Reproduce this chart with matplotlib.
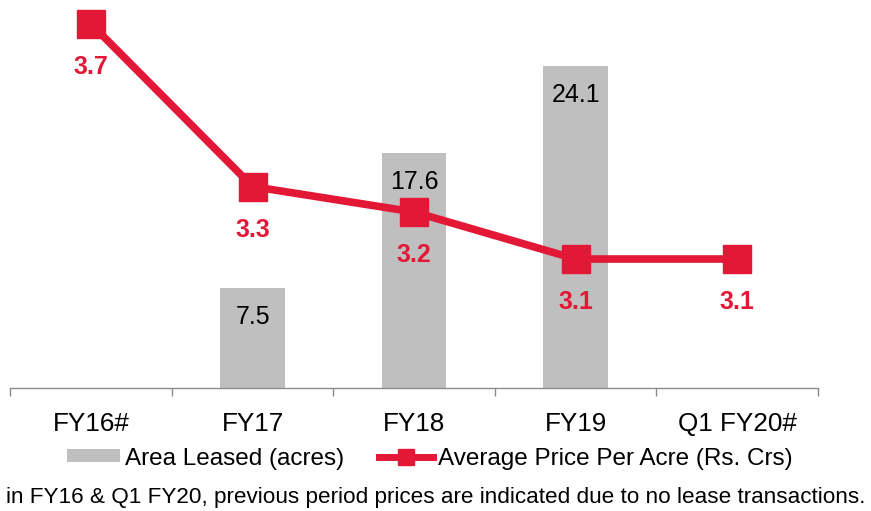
import matplotlib
matplotlib.use("Agg")
import matplotlib.pyplot as plt
from matplotlib.lines import Line2D
from matplotlib.patches import Patch

plt.rcParams['font.family'] = ['Liberation Sans', 'DejaVu Sans']

# data
periods = ["FY16#", "FY17", "FY18", "FY19", "Q1 FY20#"]
area_leased = [None, 7.5, 17.6, 24.1, None]          # acres
avg_price = [3.70, 3.285, 3.22, 3.10, 3.10]           # Rs. Crs per acre

GREY = "#BFBFBF"
RED = "#E31837"

fig = plt.figure(figsize=(8.71, 5.11), dpi=100)
ax = fig.add_axes([0.0118, 0.2407, 0.9274, 0.7397])
ax2 = ax.twinx()

x = list(range(len(periods)))

# bars (area leased)
for xi, v in zip(x, area_leased):
    if v is None:
        continue
    ax.bar(xi, v, width=0.40, color=GREY, zorder=1)
    ax.annotate(f"{v:.1f}", (xi, v), xytext=(0, -21), textcoords="offset points",
                ha="center", va="center", fontsize=18, color="black")

ax.set_xlim(-0.5, 4.5)
ax.set_ylim(0, 28.25)
ax.set_yticks([])
for s in ["top", "left", "right"]:
    ax.spines[s].set_visible(False)
ax.spines["bottom"].set_color("#8C8C8C")
ax.spines["bottom"].set_linewidth(1.0)

ax.set_xticks(x)
ax.set_xticklabels(periods, fontsize=18.8)
ax.tick_params(axis="x", which="major", length=0, pad=17.5)
ax.set_xticks([i - 0.5 for i in range(len(periods) + 1)], minor=True)
ax.tick_params(axis="x", which="minor", length=6, width=1.0, color="#8C8C8C")

# line (average price)
ax2.plot(x, avg_price, color=RED, lw=5.5, marker="s", markersize=20,
         clip_on=False, zorder=3)
for xi, v in zip(x, avg_price):
    ax2.annotate(f"{v:.1f}", (xi, v), xytext=(0, -31), textcoords="offset points",
                 ha="center", va="center", fontsize=18, fontweight="bold", color=RED)
ax2.set_ylim(2.7707, 3.7357)
ax2.set_yticks([])
for s in ["top", "left", "right", "bottom"]:
    ax2.spines[s].set_visible(False)

# legend
handles = [Patch(facecolor=GREY, edgecolor="none"),
           Line2D([], [], color=RED, lw=5, marker="s", markersize=11)]
labels = ["Area Leased (acres)", "Average Price Per Acre (Rs. Crs)"]
fig.legend(handles, labels, loc="center", bbox_to_anchor=(0.493, 1 - 458.5 / 511),
           ncol=2, frameon=False, fontsize=17.5, handlelength=2.2,
           handleheight=0.45, handletextpad=0.2, columnspacing=1.45)

fig.text(0.007, 1 - 498 / 511,
         "in FY16 & Q1 FY20, previous period prices are indicated due to no lease transactions.",
         ha="left", va="center", fontsize=16.2)

fig.savefig("out.png", dpi=100)
